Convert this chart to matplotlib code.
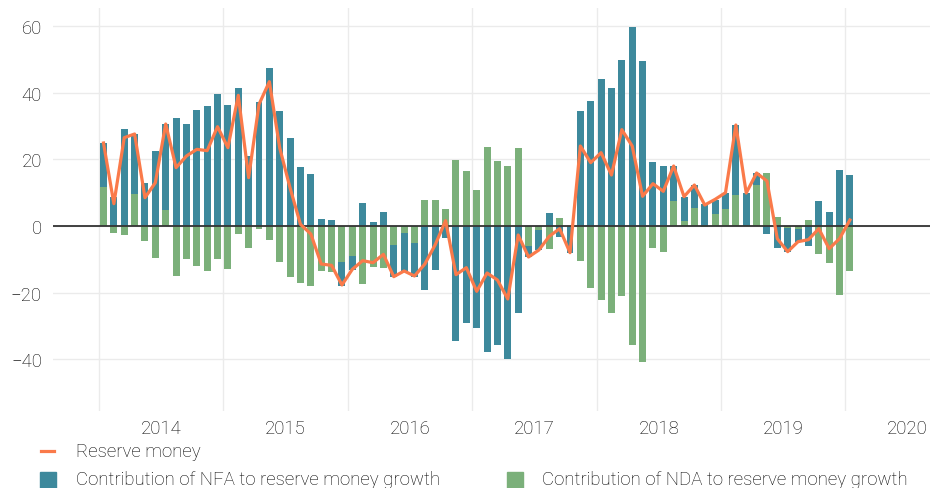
import numpy as np
import pandas as pd
import matplotlib.pyplot as plt
from matplotlib.lines import Line2D
from matplotlib.patches import Rectangle

plt.rcParams['font.family'] = ['Roboto', 'DejaVu Sans']

# monthly data, Jan 2014 .. Jan 2020
months = pd.date_range('2014-01-01', periods=73, freq='MS')

nda = [11.7, -2.1, -2.7, 9.6, -4.5, -9.6, 4.8, -15.0, -9.9, -12.0, -13.5, -9.9,
       -12.9, -2.4, -6.6, -0.9, -4.2, -10.8, -15.2, -17.0, -17.9, -13.5, -13.7, -10.7,
       -8.9, -17.3, -12.2, -12.5, -5.7, -2.1, -5.1, 7.8, 7.8, 5.1, 19.8, 16.5,
       10.8, 23.7, 19.5, 18.0, 23.4, -6.0, -1.2, -6.9, 2.4, -0.4, -10.5, -18.6,
       -22.2, -26.1, -21.0, -35.7, -40.7, -6.6, -7.8, 7.5, 1.5, 5.4, -0.3, 3.6,
       5.1, 9.3, 0.0, 12.3, 15.9, 2.7, -0.6, -0.9, 1.8, -8.4, -11.1, -20.7,
       -13.5]
nfa = [13.2, 8.7, 29.1, 18.0, 12.9, 22.5, 25.8, 32.4, 30.6, 34.8, 36.0, 39.6,
       36.3, 41.4, 21.0, 37.2, 47.4, 34.5, 26.4, 17.7, 15.6, 2.1, 1.8, -7.2,
       -4.2, 6.9, 1.2, 4.2, -9.5, -11.6, -10.1, -19.1, -13.1, -3.5, -34.4, -29.0,
       -30.6, -37.7, -35.6, -39.9, -26.0, -3.3, -6.0, 3.9, -3.3, -7.6, 34.5, 37.5,
       44.1, 41.4, 49.8, 59.7, 49.5, 19.2, 18.0, 10.5, 7.2, 6.9, 6.6, 4.2,
       4.8, 21.0, 9.9, 3.6, -2.4, -6.6, -7.2, -3.9, -6.0, 7.5, 4.2, 16.8,
       15.3]
reserve = [24.9, 6.7, 26.5, 27.6, 8.5, 13.0, 30.6, 17.5, 21.0, 23.0, 22.6, 29.8,
           23.5, 39.2, 14.5, 36.5, 43.3, 23.4, 11.4, 0.5, -2.4, -11.4, -11.8, -17.7,
           -13.0, -10.4, -11.0, -8.5, -15.2, -13.5, -15.0, -11.4, -5.6, 1.6, -14.6, -12.5,
           -19.6, -14.1, -16.2, -21.9, -2.7, -9.3, -7.2, -3.1, -0.8, -8.0, 24.0, 19.0,
           22.0, 15.3, 28.9, 24.0, 8.9, 12.7, 10.4, 18.0, 8.8, 12.3, 6.3, 8.0,
           10.0, 30.3, 9.9, 15.9, 13.5, -3.8, -7.7, -4.7, -4.1, -0.8, -6.8, -3.8,
           1.8]

years = [2014, 2015, 2016, 2017, 2018, 2019, 2020]

teal = '#3d899c'
green = '#7bb07a'
orange = '#fa7a4a'
txt = '#000000'
fs = 13.4

x = months.year + (months.month - 1) / 12 + 0.036
nda = np.array(nda)
nfa = np.array(nfa)
# relative stacking: NFA sits on NDA when both have the same sign
bottom = np.where(np.sign(nfa) == np.sign(nda), nda, 0)

fig = plt.figure(figsize=(9.3, 4.89), dpi=100)
ax = fig.add_axes([53/930, 1 - 412/489, 1 - 53/930, (412 - 9)/489])

ax.bar(x, nda, width=0.056, color=green, zorder=2)
ax.bar(x, nfa, width=0.056, bottom=bottom, color=teal, zorder=2)
ax.axhline(0, color='#333333', lw=1.3, zorder=3)
ax.plot(x, reserve, color=orange, lw=2.3, zorder=4)

ax.set_xlim(2013.63, 2020.68)
ax.set_ylim(-55.5, 65.4)
ax.set_yticks([-40, -20, 0, 20, 40, 60])
ax.set_xticks(years)
ax.set_xticklabels([])
ax.set_xticks([y + 0.5 for y in years], minor=True)
ax.set_xticklabels([str(y) for y in years], minor=True)
ax.tick_params(axis='x', which='both', length=0, pad=6, labelsize=fs, labelcolor=txt)
ax.tick_params(axis='y', length=0, pad=8, labelsize=fs, labelcolor=txt)
for lab in ax.get_yticklabels() + ax.get_xticklabels(minor=True):
    lab.set_fontweight('light')
ax.grid(True, which='major', color='#ebebeb', lw=1, zorder=0)
ax.set_axisbelow(True)
for s in ax.spines.values():
    s.set_visible(False)

# legend below the chart
fig.add_artist(Line2D([41/930, 54/930], [1 - 452/489] * 2, color=orange, lw=2.3))
fig.text(76/930, 1 - 452/489, 'Reserve money', va='center', ha='left',
         fontsize=fs, color=txt, fontweight='light')
fig.add_artist(Rectangle((40/930, 0), 16/930, 16/489, color=teal))
fig.text(76/930, 1 - 480/489, 'Contribution of NFA to reserve money growth', va='center',
         ha='left', fontsize=fs, color=txt, fontweight='light')
fig.add_artist(Rectangle((507/930, 0), 16/930, 16/489, color=green))
fig.text(542/930, 1 - 480/489, 'Contribution of NDA to reserve money growth', va='center',
         ha='left', fontsize=fs, color=txt, fontweight='light')

fig.savefig('out.png', dpi=100)
